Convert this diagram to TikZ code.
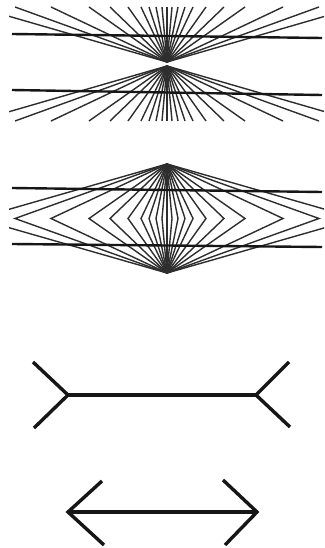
\documentclass[tikz,border=0pt]{standalone}
\usetikzlibrary{calc}
\definecolor{cink}{HTML}{161616}
\definecolor{cray}{HTML}{2E2E2E}
\tikzset{
  every picture/.style={x=1pt, y=-1pt},
  bar/.style={draw=cink, line width=2.4pt},
  ray/.style={draw=cray, line width=1.4pt},
  fin/.style={draw=cink, line width=3.4pt, line join=miter},
}

\begin{document}
\begin{tikzpicture}
  \useasboundingbox[fill=white] (0,0) rectangle (324,548);
  % Hering: two bars over a fan of rays
  \coordinate (hup) at (167,62);
  \coordinate (hdn) at (167,66);
  \begin{scope}
    \clip (9,4) rectangle (324,126);
    \foreach \d in {190,152,116,78,57,39,26,18,11,5}{
      \draw[ray] (hup) -- ++(-\d,-55);
      \draw[ray] (hup) -- ++(\d,-55);
      \draw[ray] (hdn) -- ++(-\d,55);
      \draw[ray] (hdn) -- ++(\d,55);
    }
    \draw[ray] (hup) -- ++(0,-55);
    \draw[ray] (hdn) -- ++(0,55);
  \end{scope}
  \draw[bar] (12,34) -- (322,38);
  \draw[bar] (12,90) -- (322,95);
  % Wundt: two bars over nested diamonds
  \coordinate (wtop) at (167,164);
  \coordinate (wbot) at (167,273);
  \begin{scope}
    \clip (9,150) rectangle (324,282);
    \foreach \d in {190,152,116,78,57,39,26,18,11,5}{
      \draw[ray] (wtop) -- ++(-\d,54.5) -- (wbot);
      \draw[ray] (wtop) -- ++(\d,54.5) -- (wbot);
    }
    \draw[ray] (wtop) -- (wbot);
  \end{scope}
  \draw[bar] (12,188) -- (322,192);
  \draw[bar] (12,244) -- (322,247);
  % Mueller-Lyer: fins out
  \coordinate (aL) at (68,395);
  \coordinate (aR) at (256,395);
  \draw[fin] (aL) -- (aR);
  \draw[fin] (33,362) -- (aL) -- (34,428);
  \draw[fin] (289,362) -- (aR) -- (290,427);
  % Mueller-Lyer: arrow heads
  \coordinate (bL) at (68,512);
  \coordinate (bR) at (257,512);
  \draw[fin] (bL) -- (bR);
  \draw[fin] (102,481) -- (bL) -- (104,545);
  \draw[fin] (223,480) -- (bR) -- (225,545);
\end{tikzpicture}
\end{document}
